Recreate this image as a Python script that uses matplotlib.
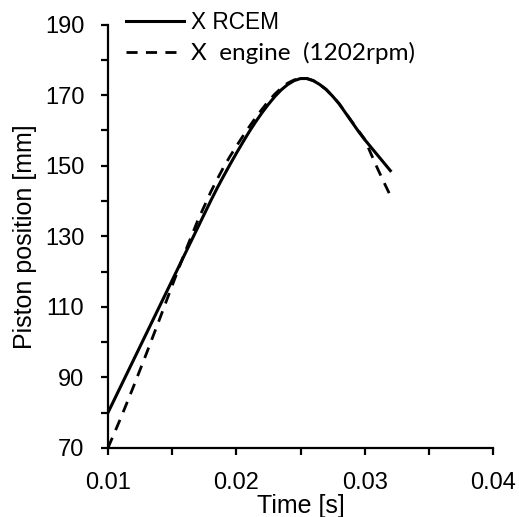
import numpy as np
import matplotlib.pyplot as plt
from matplotlib.font_manager import FontProperties

plt.rcParams['font.family'] = ['Liberation Sans', 'DejaVu Sans']

time = [0.0100, 0.0110, 0.0120, 0.0130, 0.0140, 0.0150, 0.0160, 0.0170, 0.0180, 0.0185,
        0.0190, 0.0195, 0.0200, 0.0205, 0.0210, 0.0215, 0.0220, 0.0225, 0.0230, 0.0235,
        0.0240, 0.0245, 0.0250, 0.0255, 0.0260, 0.0265, 0.0270, 0.0275, 0.0280, 0.0285,
        0.0290, 0.0295, 0.0300, 0.0305, 0.0310, 0.0315, 0.0320]
x_rcem = [80.0, 87.5, 95.0, 102.5, 110.0, 117.5, 125.0, 132.5, 140.0, 143.6,
          147.0, 150.3, 153.5, 156.6, 159.6, 162.4, 165.0, 167.4, 169.6, 171.5,
          173.0, 174.1, 174.7, 174.7, 174.1, 173.0, 171.6, 169.7, 167.6, 165.0,
          162.4, 159.8, 157.4, 155.2, 153.0, 150.8, 148.6]
x_engine = [70.0, 78.5, 87.5, 96.8, 106.3, 116.0, 125.5, 134.5, 142.5, 146.1,
            149.5, 152.6, 155.5, 158.3, 161.0, 163.6, 166.0, 168.3, 170.3, 172.0,
            173.4, 174.3, 174.8, 174.7, 174.1, 173.0, 171.6, 169.7, 167.6, 165.1,
            162.5, 160.0, 157.5, 153.3, 149.2, 145.3, 141.5]

fig = plt.figure(figsize=(5.19, 5.17), dpi=100)
ax = fig.add_axes([0.208, 0.1335, 0.742, 0.819])

ax.plot(time, x_rcem, color='black', lw=2.2, label='X RCEM')
ax.plot(time, x_engine, color='black', lw=2.0, dashes=(4, 3), label='X  engine  (1202rpm)')

ax.set_xlim(0.01, 0.04)
ax.set_ylim(70, 190)
ax.set_xticks([0.01, 0.02, 0.03, 0.04])
ax.set_xticklabels(['0.01', '0.02', '0.03', '0.04'])
ax.set_xticks(np.arange(0.015, 0.04, 0.01), minor=True)
ax.set_yticks(np.arange(70, 191, 20))
ax.set_yticks(np.arange(80, 190, 20), minor=True)

for s in ['top', 'right']:
    ax.spines[s].set_visible(False)
for s in ['left', 'bottom']:
    ax.spines[s].set_linewidth(1.6)
ax.tick_params(which='both', direction='out', width=1.6, length=5, labelsize=17)
ax.tick_params(axis='y', pad=12)
ax.tick_params(axis='x', pad=12)

ax.set_xlabel('Time [s]', fontsize=18, labelpad=0)
ax.set_ylabel('Piston position [mm]', fontsize=18, labelpad=6)

leg = ax.legend(loc='upper left', bbox_to_anchor=(126/519, 1-11/517), bbox_transform=fig.transFigure,
                frameon=False, fontsize=16.3, borderpad=0, borderaxespad=0,
                handlelength=2.55, handletextpad=0.3, labelspacing=0.33)
leg.get_texts()[1].set_fontproperties(FontProperties(family='Lato', size=17.5))

fig.savefig('out.png', dpi=100)
